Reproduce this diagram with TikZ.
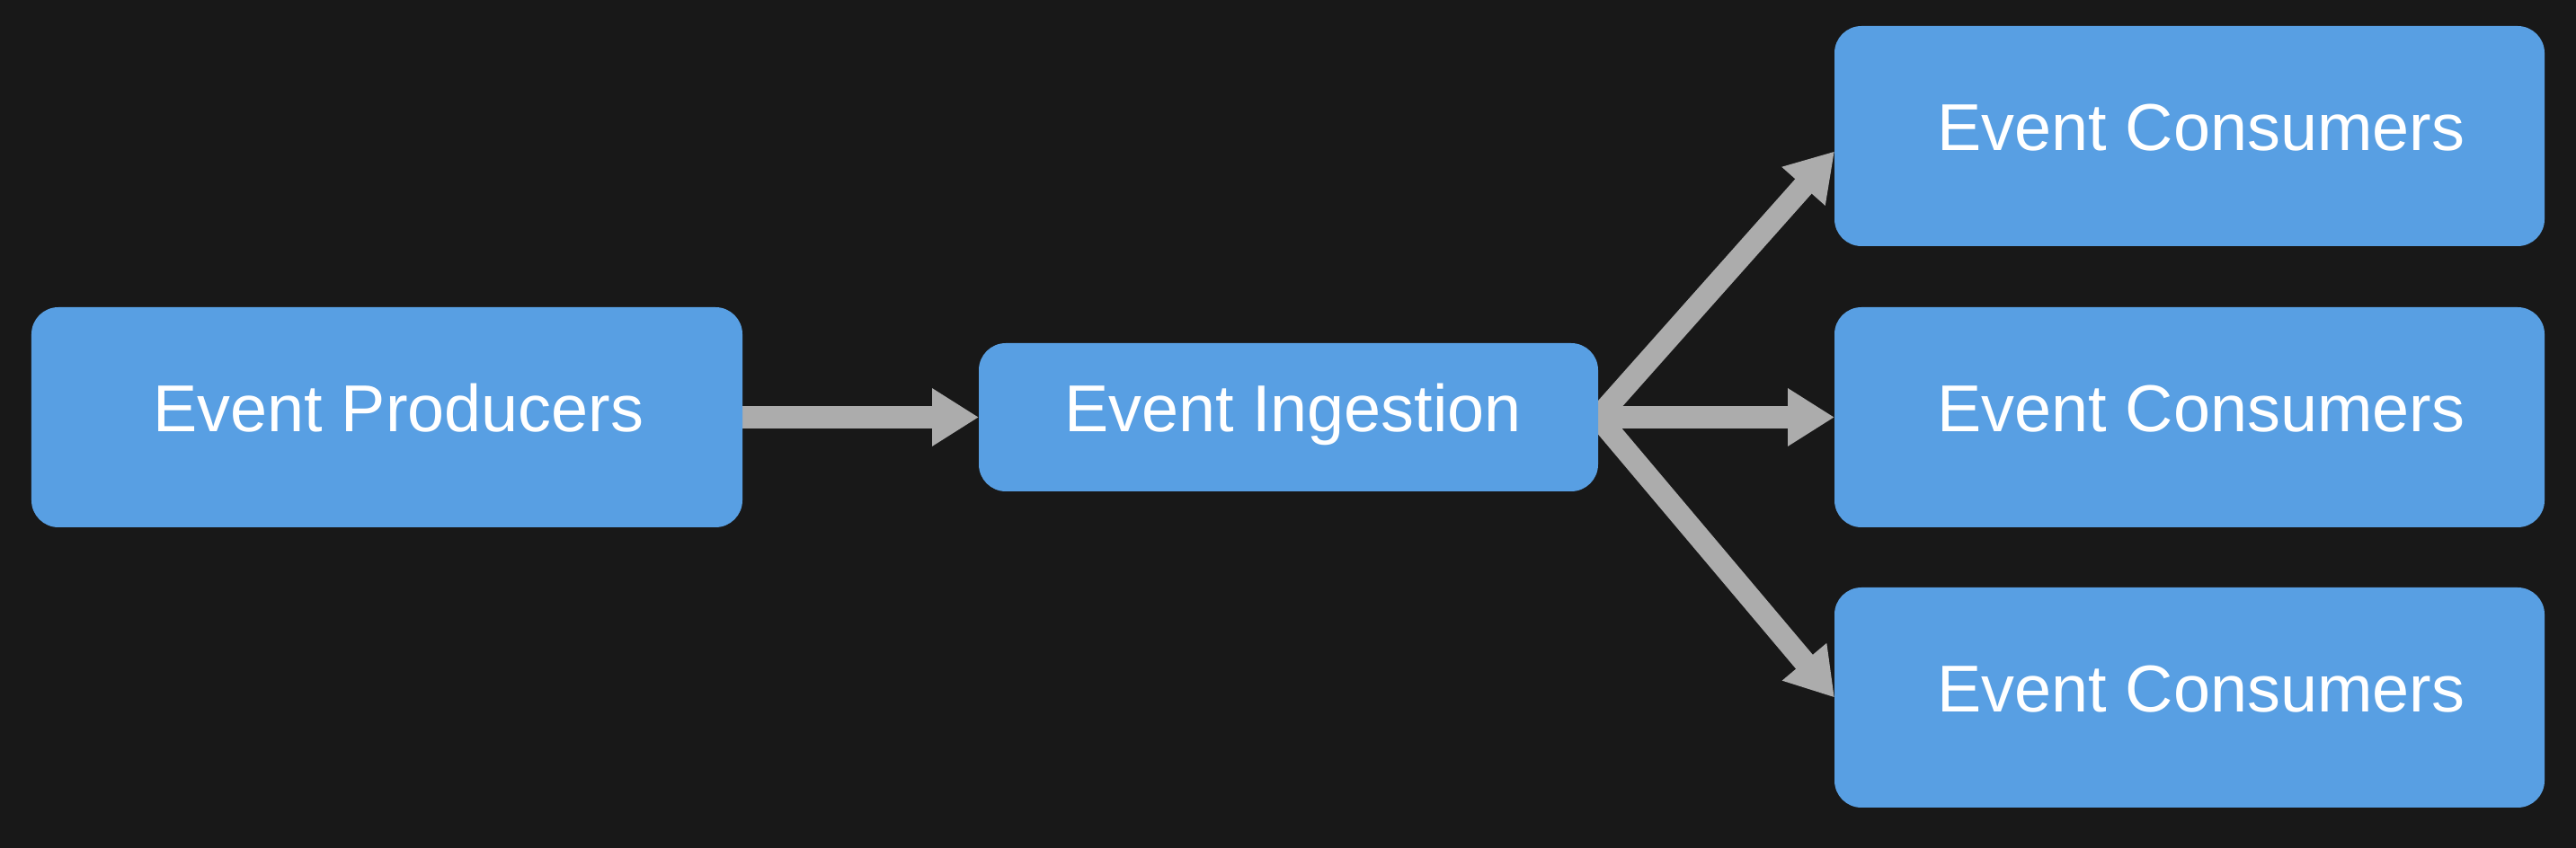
\documentclass[tikz,border=0pt]{standalone}
\usepackage{fontspec}
\setmainfont{Liberation Sans}
\usepackage{tikz}
\usetikzlibrary{positioning,arrows.meta,backgrounds}
\definecolor{bgdark}{RGB}{24,24,24}
\definecolor{boxblue}{RGB}{88,159,227}
\definecolor{flowgray}{RGB}{172,172,172}

\begin{document}
\begin{tikzpicture}[
block/.style={fill=boxblue, rounded corners=0.3cm, text=white, outer sep=0, inner sep=0,
  font=\fontsize{21}{25}\selectfont, text height=15pt, text depth=5.7pt},
box/.style={block, minimum width=7.9cm, minimum height=2.45cm, execute at begin node={\hspace*{0.26cm}}},
ingest/.style={block, minimum width=6.89cm, minimum height=1.65cm, execute at begin node={\hspace*{0.1cm}}},
flow/.style={draw=flowgray, line width=0.245cm, -{Triangle[length=0.52cm, width=0.61cm]}}
]
\useasboundingbox (0,0) rectangle (28.66,9.44);
\node[box, minimum width=7.91cm] (prod) at (4.305,4.795) {Event Producers};
\node[ingest, right=2.63cm of prod] (ing) {Event Ingestion};
\node[box, right=2.63cm of ing] (cons2) {Event Consumers};
\node[box, above=0.68cm of cons2] (cons1) {Event Consumers};
\node[box, below=0.67cm of cons2] (cons3) {Event Consumers};
\begin{scope}[on background layer]
\fill[bgdark] (0,0) rectangle (28.66,9.44);
\draw[flow] (prod) -- (ing);
\draw[flow] (ing.east) -- ([yshift=-0.17cm]cons1.west);
\draw[flow] (ing.east) -- (cons2.west);
\draw[flow] (ing.east) -- (cons3.west);
\end{scope}
\end{tikzpicture}
\end{document}
